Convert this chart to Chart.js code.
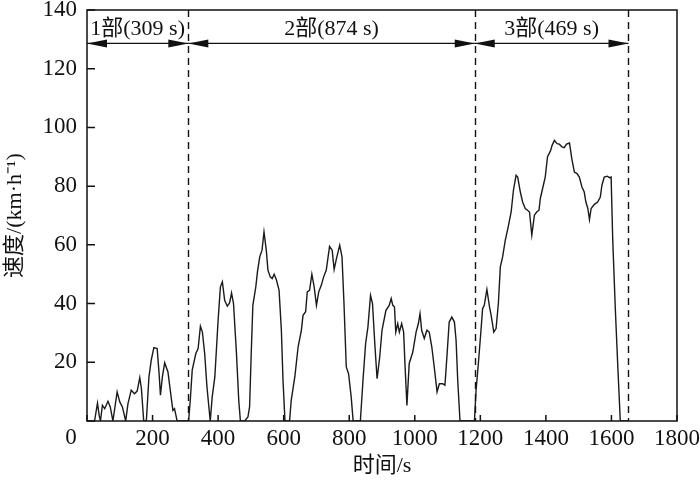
<!DOCTYPE html>
<html>
<head>
<meta charset="utf-8">
<script src="https://cdn.jsdelivr.net/npm/chart.js@4.4.0/dist/chart.umd.min.js"></script>
<style>
  html, body { margin: 0; padding: 0; background: #fff; }
  #speed-chart { display: block; }
</style>
</head>
<body>
<canvas id="speed-chart" width="700" height="481"></canvas>
<script>
// speed trace (time in s, speed in km/h)
const timeS = [
  20, 23, 32, 37, 41, 47, 54, 64, 71, 79, 92, 100, 108, 118, 125, 135, 145, 153, 161, 166,
  173, 181, 189, 196, 204, 214, 220, 224, 230, 237, 247, 254, 262, 267, 275,
  310, 315, 321, 332, 339, 346, 352, 359, 366, 376,
  382, 390, 400, 407, 413, 420, 428, 435, 441, 447, 456, 463, 468,
  481, 491, 496, 501, 506, 515, 520, 527, 534, 540, 547, 552, 559, 565, 571, 578, 586, 593, 598, 604,
  618, 623, 634, 644, 654, 659, 667, 672, 679, 686, 693, 700, 707, 715, 722, 730, 740, 748, 754, 761,
  771, 778, 784, 791, 798, 806, 812,
  834, 842, 850, 857, 865, 871, 878, 885, 893, 900, 912, 922, 928, 933, 938, 942, 948, 953, 960, 966,
  970, 976, 983, 994, 1004, 1011, 1016, 1021, 1029, 1037, 1044, 1052, 1060, 1068, 1075, 1085, 1092,
  1098, 1105, 1113, 1121, 1126, 1131, 1138,
  1182, 1187, 1194, 1202, 1207, 1212, 1220, 1228, 1233, 1241, 1248, 1255, 1261, 1268, 1276, 1285,
  1294, 1301, 1309, 1314, 1322, 1329, 1337, 1344, 1350, 1357, 1365, 1372, 1379, 1383, 1390, 1398,
  1405, 1414, 1419, 1426, 1434, 1441, 1449, 1456, 1463, 1472, 1479, 1487, 1495, 1502, 1510, 1517,
  1522, 1528, 1533, 1538, 1548, 1558, 1566, 1571, 1578, 1587, 1594, 1599, 1604, 1612, 1619, 1627, 1650
];
const speedKmh = [
  0, 0, 6.1, 2, 0, 5.3, 4.2, 6.7, 4.8, 0, 9.9, 6.5, 4.8, 0, 5.9, 10.5, 9.3, 10.2, 14.8, 11,
  0, 0, 15, 20.7, 25, 24.7, 16.1, 8.8, 15, 19.8, 16.7, 10.5, 3.6, 4.2, 0,
  0, 7, 17.3, 23, 24.7, 32.3, 30.3, 23, 11.6, 0,
  8.2, 15, 34.3, 45.7, 47.4, 41.1, 39.1, 40.2, 43.6, 40, 23, 7, 0,
  0, 1.4, 4.8, 23, 39.4, 45.7, 50.8, 55.9, 58.2, 64.4, 58.2, 51.4, 49.1, 48.5, 50, 48, 44.5, 30.9, 13.9, 0,
  0, 7, 15, 25.2, 30.9, 36, 37.2, 44, 44.5, 50, 45.7, 39.4, 44, 46.3, 49.1, 51.4, 59.5, 58.2, 51.6, 55.3,
  59.9, 55.9, 40, 18.4, 16.1, 8.2, 0,
  0, 13.9, 26.4, 32, 42.8, 40, 26.4, 14.4, 21.8, 30.9, 37.7, 39.4, 41.7, 39.4, 38.9, 30.3, 33.2, 30.3, 33.2, 30.3,
  19.6, 5.3, 19.6, 23.5, 30.3, 33.2, 36.6, 30.9, 28.1, 30.9, 30.3, 25.2, 17.8, 9.9, 12.7, 12.7, 12.2,
  21.8, 33.7, 35.4, 33.7, 27.5, 13.9, 0,
  0, 10.5, 19.6, 30.9, 38.3, 39.4, 44.8, 38.9, 36, 30.3, 31.5, 40, 52.5, 55.9, 61.5, 66.1,
  71.2, 78.6, 83.7, 83.1, 78, 74.6, 72.4, 71.8, 71.2, 63.3, 70.1, 71.2, 71.8, 75.8, 79.2, 83.1,
  90, 92, 93.9, 95.6, 94.5, 94.3, 93.4, 93.1, 94.3, 94.7, 89.4, 84.8, 84.3, 83.1, 79.7, 78,
  74.6, 72.4, 68.6, 72.4, 73.8, 74.6, 76.3, 80.3, 83.1, 83.4, 82.9, 83.1, 61.5, 37.7, 19.6, 0, 0
];

const xTickValues = [0, 200, 400, 600, 800, 1000, 1200, 1400, 1600, 1800];
const yTickValues = [0, 20, 40, 60, 80, 100, 120, 140];

// section boundaries (s) and their labels
const sectionBounds = [0, 309, 1183, 1652];
const sectionLabels = ["1部(309 s)", "2部(874 s)", "3部(469 s)"];
const arrowLevel = 128.6;

const serif = "'Liberation Serif', 'Noto Sans CJK SC', serif";

const decorPlugin = {
  id: "decor",
  afterDatasetsDraw(chart) {
    const { ctx, chartArea: a, scales } = chart;
    const x = scales.x;
    const y = scales.y;
    ctx.save();
    ctx.strokeStyle = "#111";
    ctx.fillStyle = "#111";

    // frame
    ctx.lineWidth = 1.5;
    ctx.strokeRect(a.left, a.top, a.right - a.left, a.bottom - a.top);

    // inward tick marks
    ctx.beginPath();
    xTickValues.forEach((v) => {
      const px = x.getPixelForValue(v);
      ctx.moveTo(px, a.bottom);
      ctx.lineTo(px, a.bottom - 6);
    });
    yTickValues.forEach((v) => {
      const py = y.getPixelForValue(v);
      ctx.moveTo(a.left, py);
      ctx.lineTo(a.left + 8, py);
    });
    ctx.stroke();

    // dashed section boundaries
    ctx.lineWidth = 1.4;
    ctx.setLineDash([7, 5]);
    sectionBounds.slice(1).forEach((v) => {
      const px = Math.round(x.getPixelForValue(v)) + 0.5;
      ctx.beginPath();
      ctx.moveTo(px, a.top);
      ctx.lineTo(px, a.bottom);
      ctx.stroke();
    });
    ctx.setLineDash([]);

    // double arrows + labels
    const ay = y.getPixelForValue(arrowLevel);
    ctx.lineWidth = 1.3;
    ctx.font = "22px " + serif;
    ctx.textAlign = "center";
    ctx.textBaseline = "alphabetic";
    for (let i = 0; i < sectionLabels.length; i++) {
      const x0 = x.getPixelForValue(sectionBounds[i]);
      const x1 = x.getPixelForValue(sectionBounds[i + 1]);
      ctx.beginPath();
      ctx.moveTo(x0, ay);
      ctx.lineTo(x1, ay);
      ctx.stroke();
      ctx.beginPath();
      ctx.moveTo(x0, ay);
      ctx.lineTo(x0 + 20, ay - 4);
      ctx.lineTo(x0 + 20, ay + 4);
      ctx.closePath();
      ctx.fill();
      ctx.beginPath();
      ctx.moveTo(x1, ay);
      ctx.lineTo(x1 - 20, ay - 4);
      ctx.lineTo(x1 - 20, ay + 4);
      ctx.closePath();
      ctx.fill();
      ctx.fillText(sectionLabels[i], (x0 + x1) / 2, ay - 8);
    }

    // shared origin label
    ctx.font = "23px " + serif;
    ctx.fillText("0", x.getPixelForValue(0) - 16, a.bottom + 23);
    ctx.restore();
  },
};

const ctx = document.getElementById("speed-chart");
new Chart(ctx, {
  type: "line",
  data: {
    datasets: [
      {
        data: timeS.map((t, i) => ({ x: t, y: speedKmh[i] })),
        borderColor: "#1a1a1a",
        borderWidth: 1.4,
        pointRadius: 0,
        tension: 0,
        fill: false,
      },
    ],
  },
  options: {
    responsive: false,
    animation: false,
    devicePixelRatio: 1,
    layout: { padding: { top: 10, right: 23, left: 0, bottom: 0 } },
    plugins: { legend: { display: false }, tooltip: { enabled: false } },
    scales: {
      x: {
        type: "linear",
        min: 0,
        max: 1800,
        grid: { display: false, drawTicks: false },
        border: { display: false },
        afterBuildTicks: (scale) => {
          scale.ticks = xTickValues.map((v) => ({ value: v }));
        },
        afterFit: (scale) => {
          scale.height = 60;
          scale.paddingLeft = 0;
          scale.paddingRight = 0;
        },
        ticks: {
          padding: 4,
          maxRotation: 0,
          autoSkip: false,
          color: "#111",
          font: { family: serif, size: 23 },
          callback: (v) => (v === 0 ? "" : v),
        },
        title: {
          display: true,
          text: "时间/s",
          color: "#111",
          padding: { top: 0, bottom: 2 },
          font: { family: serif, size: 22 },
        },
      },
      y: {
        min: 0,
        max: 140,
        grid: { display: false, drawTicks: false },
        border: { display: false },
        afterBuildTicks: (scale) => {
          scale.ticks = yTickValues.map((v) => ({ value: v }));
        },
        afterFit: (scale) => {
          scale.width = 87;
          scale.paddingTop = 0;
          scale.paddingBottom = 0;
        },
        ticks: {
          padding: 10,
          color: "#111",
          font: { family: serif, size: 23 },
          callback: (v) => (v === 0 ? "" : v),
        },
        title: {
          display: true,
          text: "速度/(km·h⁻¹)",
          color: "#111",
          padding: { top: 2, bottom: 0 },
          font: { family: serif, size: 22 },
        },
      },
    },
  },
  plugins: [decorPlugin],
});
</script>
</body>
</html>
